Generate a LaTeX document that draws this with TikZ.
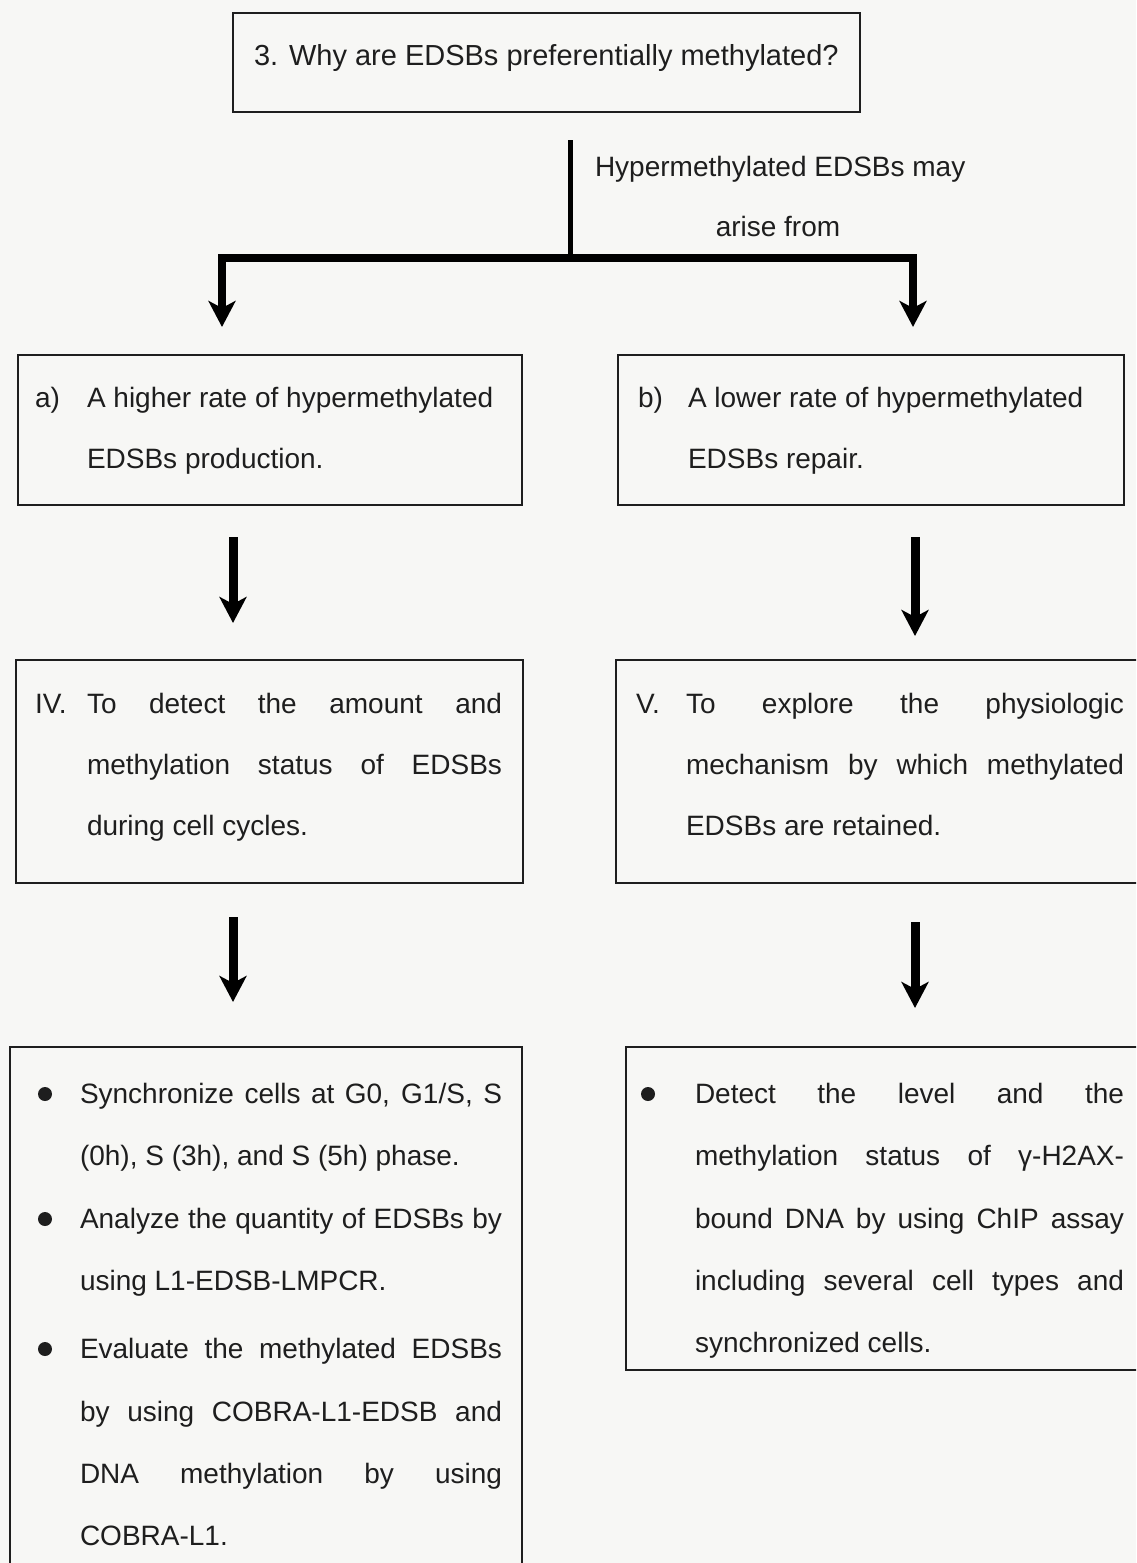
\documentclass[tikz,border=0pt]{standalone}
\usepackage{fontspec}
\setmainfont{Liberation Sans}
\usetikzlibrary{arrows.meta}
\definecolor{bg}{RGB}{247,247,245}
\definecolor{ink}{RGB}{30,30,30}
\tikzset{
  box/.style={draw=ink, line width=2pt, rectangle, inner sep=0pt, outer sep=0pt},
  txt/.style={anchor=base west, inner sep=0pt, outer sep=0pt, text=ink, font=\fontsize{28}{34}\selectfont},
  ctxt/.style={txt, anchor=base},
  arr/.style={draw=black, line width=9pt, -{Stealth[length=26pt,width=27pt,inset=7pt]}},
  splitarr/.style={draw=black, line width=8pt, line join=miter, -{Stealth[length=26pt,width=27pt,inset=7pt]}},
  stem/.style={draw=black, line width=5pt}
}
\newcommand\tl[4]{\node[txt] (#1) at (#2,#3) {#4};}
\newcommand\jl[5]{\node[txt] (#1) at (#2,#3) {\makebox[#4pt][s]{#5}};}
\begin{document}
\begin{tikzpicture}[x=1pt,y=-1pt]
\useasboundingbox (0,0) rectangle (1136,1563);
\fill[bg] (0,0) rectangle (1136,1563);
\clip (0,0) rectangle (1136,1563);

% boxes
\node[box, minimum width=627pt, minimum height=99pt] (q) at (546.5,62.5) {};
\node[box, minimum width=504pt, minimum height=150pt] (ba) at (270,430) {};
\node[box, minimum width=506pt, minimum height=150pt] (bb) at (871,430) {};
\node[box, minimum width=507pt, minimum height=223pt] (biv) at (269.5,771.5) {};
\node[box, minimum width=524pt, minimum height=223pt] (bv) at (878,771.5) {};
\node[box, minimum width=512pt, minimum height=523pt] (bl) at (266,1308.5) {};
\node[box, minimum width=514pt, minimum height=323pt] (br) at (883,1208.5) {};

% top question
\node[txt, font=\fontsize{29}{34}\selectfont] (q1) at (254,66) {3.};
\node[txt, font=\fontsize{29}{34}\selectfont] (q2) at (289,66) {Why are EDSBs preferentially methylated?};

% split connector
\coordinate (stemtop) at (570,140);
\coordinate (fork) at (570,258);
\coordinate (ltip) at (222,327);
\coordinate (rtip) at (913,327);
\draw[stem] (stemtop) -- (fork);
\draw[splitarr] (fork) -| (ltip);
\draw[splitarr] (fork) -| (rtip);
\tl{lab1}{595}{176}{Hypermethylated EDSBs may}
\node[ctxt] (lab2) at (778,236) {arise from};

% box a / b
\tl{a0}{35}{407}{a)}
\tl{a1}{87}{407}{A higher rate of hypermethylated}
\tl{a2}{87}{468}{EDSBs production.}
\tl{b0}{638}{407}{b)}
\tl{b1}{688}{407}{A lower rate of hypermethylated}
\tl{b2}{688}{468}{EDSBs repair.}

% arrows a->IV, b->V
\coordinate (a_s) at (233,537);
\coordinate (a_e) at (233,623);
\coordinate (b_s) at (915,537);
\coordinate (b_e) at (915,636);
\draw[arr] (a_s) -- (a_e);
\draw[arr] (b_s) -- (b_e);

% box IV
\tl{iv0}{35}{713}{IV.}
\jl{iv1}{87}{713}{415}{To detect the amount and}
\jl{iv2}{87}{774}{415}{methylation status of EDSBs}
\tl{iv3}{87}{835}{during cell cycles.}

% box V
\tl{v0}{636}{713}{V.}
\jl{v1}{686}{713}{438}{To explore the physiologic}
\jl{v2}{686}{774}{438}{mechanism by which methylated}
\tl{v3}{686}{835}{EDSBs are retained.}

% arrows IV->bl, V->br
\coordinate (iv_s) at (233,917);
\coordinate (iv_e) at (233,1002);
\coordinate (v_s) at (915,922);
\coordinate (v_e) at (915,1008);
\draw[arr] (iv_s) -- (iv_e);
\draw[arr] (v_s) -- (v_e);

% bottom left
\fill[ink] (45,1094) circle (7pt);
\fill[ink] (45,1219) circle (7pt);
\fill[ink] (45,1349) circle (7pt);
\jl{l1}{80}{1103}{422}{Synchronize cells at G0, G1/S, S}
\tl{l2}{80}{1165}{(0h), S (3h), and S (5h) phase.}
\jl{l3}{80}{1228}{422}{Analyze the quantity of EDSBs by}
\tl{l4}{80}{1290}{using L1-EDSB-LMPCR.}
\jl{l5}{80}{1358}{422}{Evaluate the methylated EDSBs}
\jl{l6}{80}{1421}{422}{by using COBRA-L1-EDSB and}
\jl{l7}{80}{1483}{422}{DNA methylation by using}
\tl{l8}{80}{1545}{COBRA-L1.}

% bottom right
\fill[ink] (648,1094) circle (7pt);
\jl{r1}{695}{1103}{429}{Detect the level and the}
\jl{r2}{695}{1165}{429}{methylation status of γ-H2AX-}
\jl{r3}{695}{1228}{429}{bound DNA by using ChIP assay}
\jl{r4}{695}{1290}{429}{including several cell types and}
\tl{r5}{695}{1352}{synchronized cells.}
\end{tikzpicture}
\end{document}
